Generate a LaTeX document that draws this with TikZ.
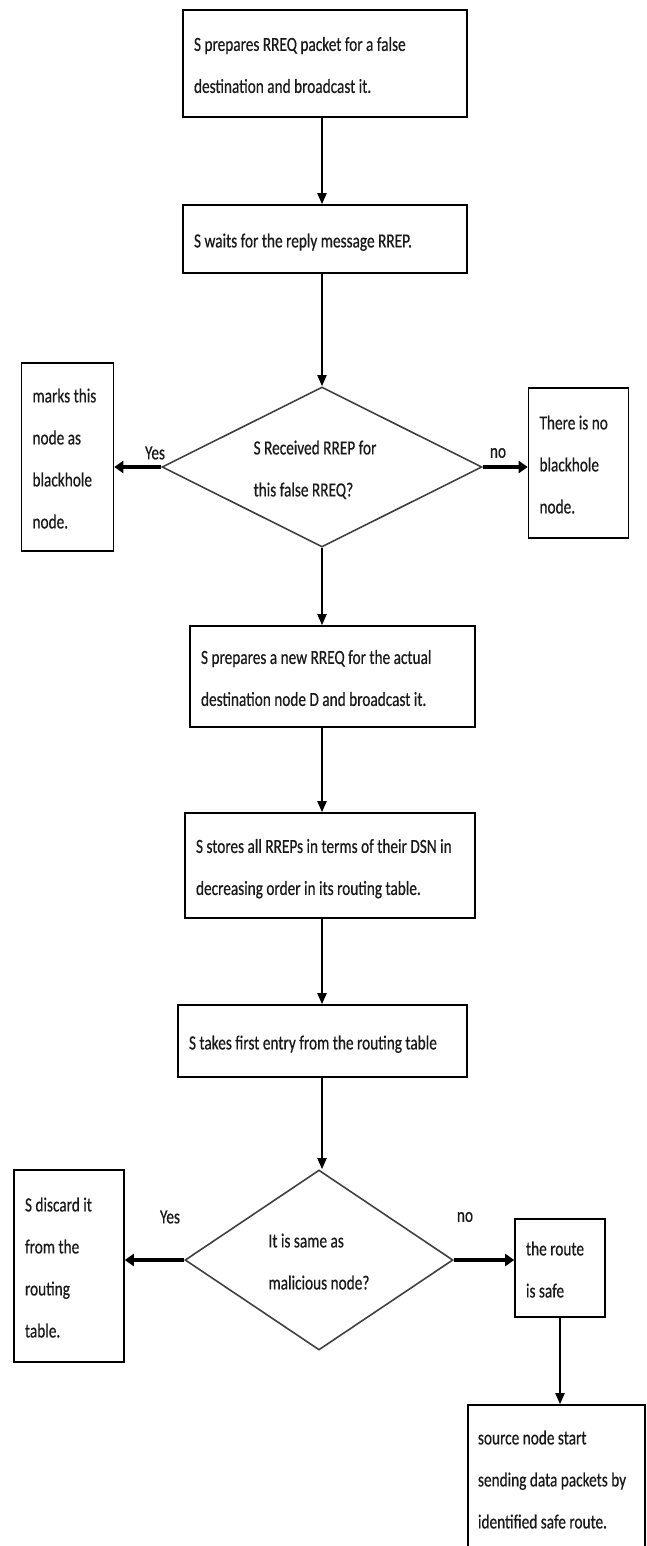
\documentclass[tikz,border=0pt]{standalone}
\usepackage{fontspec}
\setmainfont{Carlito}[FakeStretch=0.765,FakeBold=0.5]
\usetikzlibrary{shapes.geometric,arrows.meta}
\newcommand\mylines[1]{\spaceskip=0pt\xspaceskip=0pt\begin{tabular}{@{}l@{}}#1\end{tabular}}
\begin{document}
\begin{tikzpicture}[x=1pt,y=-1pt,
  txt/.style={font=\fontsize{20}{42}\selectfont,text=black!90},
  box/.style={txt,draw=black,line width=1.6pt,rectangle,inner xsep=11pt,inner ysep=0pt,align=left},
  bx/.style n args={2}{text width=#1,minimum height=#2},
  dec/.style={txt,draw=black!75,line width=1.6pt,diamond,inner sep=0pt,align=left},
  lab/.style={font=\fontsize{20}{24}\selectfont,text=black!90,inner sep=0pt},
  flow/.style={line width=1.8pt,-{Triangle[length=11pt,width=9pt]}},
  side/.style={line width=4pt,-{Triangle[length=9pt,width=12pt]}},
]
\useasboundingbox (0,0) rectangle (646,1546);

\node[box,bx={262pt}{107pt}] (b1) at (325,63.5) {\mylines{S prepares RREQ packet for a false\\destination and broadcast it.}};
\node[box,bx={262pt}{68pt}] (b2) at (325,239) {\mylines{S waits for the reply message RREP.}};
\node[dec,aspect=2,minimum width=320pt,minimum height=160pt] (d1) at (322,467) {\raisebox{-5pt}{\mylines{S Received RREP for\\this false RREQ?}}\hspace*{14pt}};
\node[box,bx={70pt}{188pt}] (l1) at (67.5,457) {\mylines{marks this\\node as\\blackhole\\node.}};
\node[box,bx={78pt}{150pt}] (r1) at (578.5,463) {\mylines{There is no\\blackhole\\node.}};
\node[lab] (y1) at (155,453) {Yes};
\node[lab] (n1) at (498,453) {no};
\node[box,bx={263pt}{101pt}] (b3) at (332.5,676.5) {\mylines{S prepares a new RREQ for the actual\\destination node D and broadcast it.}};
\node[box,bx={268pt}{105pt}] (b4) at (330,865.5) {\mylines{S stores all RREPs in terms of their DSN in\\decreasing order in its routing table.}};
\node[box,bx={267pt}{72pt}] (b5) at (322.5,1041) {\mylines{S takes first entry from the routing table}};
\node[dec,aspect=1.5,minimum width=268pt,minimum height=180pt] (d2) at (319,1260) {\mylines{It is same as\\malicious node?}};
\node[box,bx={88pt}{192pt}] (l2) at (69,1266) {\mylines{S discard it\\from the\\routing\\table.}};
\node[box,bx={68pt}{98pt}] (r2) at (560,1268) {\mylines{the route\\is safe}};
\node[lab] (y2) at (170,1217) {Yes};
\node[lab] (n2) at (465,1217) {no};
\begin{scope}
\clip (0,0) rectangle (646,1546);
\node[box,inner xsep=10pt,bx={157pt}{146pt}] (fin) at (556.5,1478) {\mylines{source node start\\sending data packets by\\identified safe route.}};
\end{scope}

\draw[flow] (b1.south -| d1) -- (b2.north -| d1);
\draw[flow] (b2.south -| d1) -- (d1.north);
\draw[flow] (d1.south) -- (b3.north -| d1);
\draw[flow] (b3.south -| d1) -- (b4.north -| d1);
\draw[flow] (b4.south -| d1) -- (b5.north -| d1);
\draw[flow] (b5.south -| d1) -- (d2.north -| d1);
\draw[side] (d1.west) -- (d1.west -| l1.east);
\draw[side] (d1.east) -- (d1.east -| r1.west);
\draw[side] (d2.west) -- (d2.west -| l2.east);
\draw[side] (d2.east) -- (d2.east -| r2.west);
\draw[flow] (r2.south) -- (r2.south |- fin.north);
\end{tikzpicture}
\end{document}
